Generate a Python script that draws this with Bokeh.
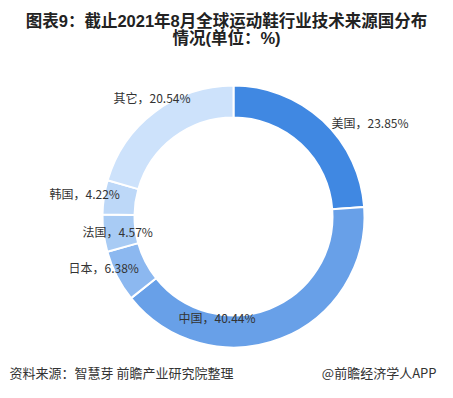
import math
from bokeh.plotting import figure
from bokeh.models import Range1d, Label, ColumnDataSource
from bokeh.embed import file_html
from bokeh.resources import INLINE

# ---- data ----
categories = ["美国", "中国", "日本", "法国", "韩国", "其它"]
values = [23.85, 40.44, 6.38, 4.57, 4.22, 20.54]
title_lines = ["图表9：截止2021年8月全球运动鞋行业技术来源国分布", "情况(单位：%)"]
source_text = "资料来源：智慧芽 前瞻产业研究院整理"
brand_text = "@前瞻经济学人APP"

# ---- styles / layout ----
colors = ["#4088e2", "#68a0e8", "#8cb8f0", "#a8cbf4", "#bdd8f8", "#cde2fb"]
W, H = 437, 382
CX, CY = 233, 398 - 216
R_OUT, R_IN = 131, 99
# label anchor (left x, screen y)
label_pos = [(331, 122), (178, 317), (68, 267), (82, 231), (49, 193), (113, 97)]

FONT_CJK = "Noto Sans CJK SC"

# figure shows screen region x 0..437, y 0..382 in picture coordinates
p = figure(width=W, height=H, output_backend="svg", toolbar_location=None,
           x_range=Range1d(0, W), y_range=Range1d(398 - H, 398),
           min_border=0)
p.axis.visible = False
p.grid.visible = False
p.outline_line_color = None
p.background_fill_color = "white"
p.border_fill_color = "white"

total = sum(values)
starts, ends = [], []
acc = 0.0
for v in values:
    a1 = math.radians(90 - acc / total * 360)
    acc += v
    a2 = math.radians(90 - acc / total * 360)
    starts.append(a1)
    ends.append(a2)

src = ColumnDataSource(dict(x=[CX] * len(values), y=[CY] * len(values),
                            start=starts, end=ends, color=colors))
p.annular_wedge(x="x", y="y", inner_radius=R_IN, outer_radius=R_OUT,
                start_angle="start", end_angle="end", direction="clock",
                fill_color="color", line_color="white", line_width=2, source=src)

for cat, v, (lx, ly) in zip(categories, values, label_pos):
    p.add_layout(Label(x=lx, y=398 - ly, text=f"{cat}，{v:.2f}%",
                       text_font=FONT_CJK, text_font_size="12px",
                       text_color="#333333", text_align="left",
                       text_baseline="middle"))

for t, yy in zip(title_lines, [20, 37]):
    p.add_layout(Label(x=226, y=398 - yy, text=t,
                       text_font="Liberation Sans, " + FONT_CJK, text_font_size="16.5px",
                       text_font_style="bold", text_color="#222222",
                       text_align="center", text_baseline="middle"))

p.add_layout(Label(x=9, y=398 - 372, text=source_text, text_font=FONT_CJK,
                   text_font_size="13px", text_color="#333333",
                   text_align="left", text_baseline="middle"))
p.add_layout(Label(x=436, y=398 - 372, text=brand_text, text_font=FONT_CJK,
                   text_font_size="13px", text_color="#333333",
                   text_align="right", text_baseline="middle"))

open("out.html", "w").write(file_html(p, INLINE))
